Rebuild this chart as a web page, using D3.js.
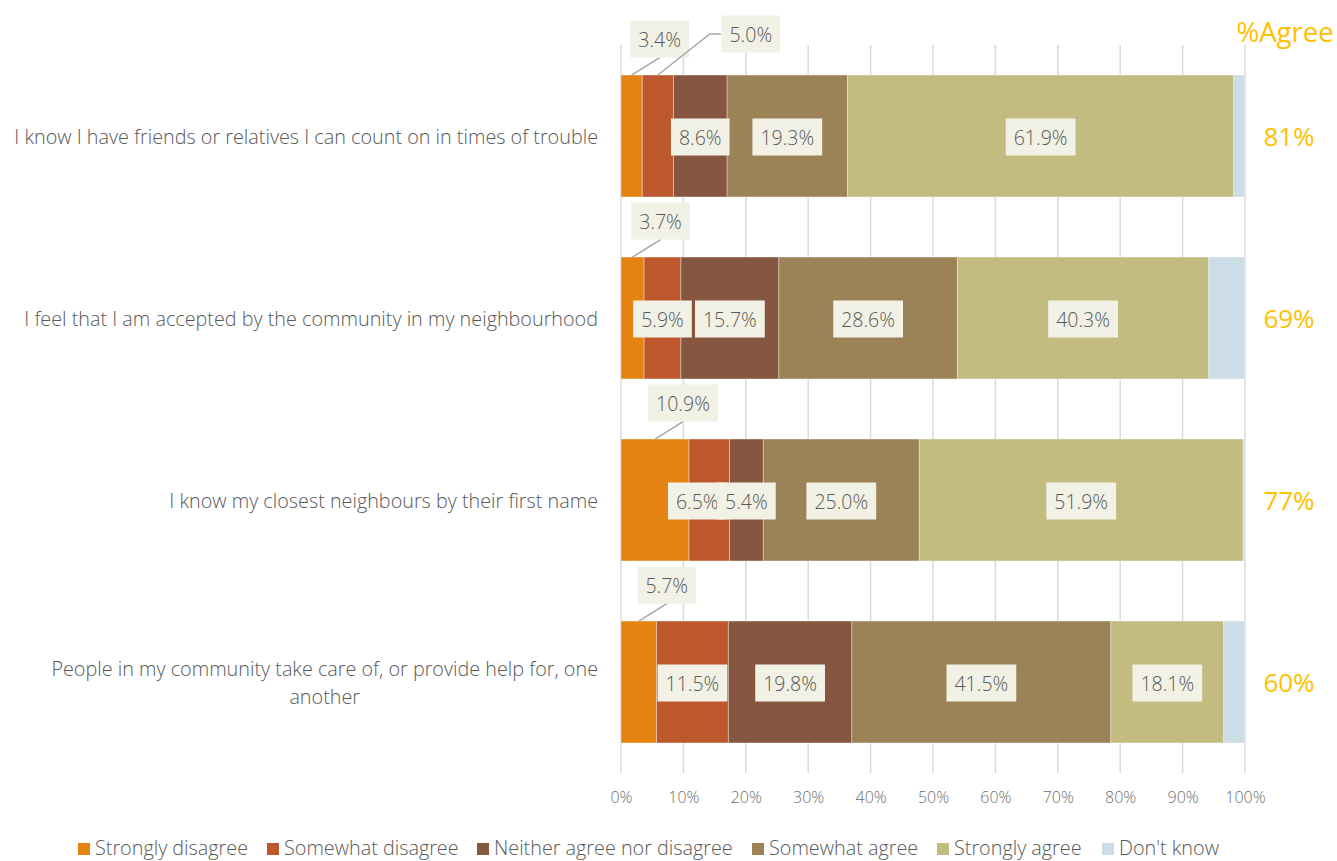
<!DOCTYPE html>
<html>
<head>
<meta charset="utf-8">
<script src="https://cdn.jsdelivr.net/npm/d3@7"></script>
<style>
  html, body { margin: 0; padding: 0; background: #fff; }
  svg { display: block; font-family: "Open Sans", "Noto Sans", sans-serif; }
</style>
</head>
<body>
<svg id="chart" width="1337" height="861"></svg>
<script>
// Survey statements (rows, top to bottom)
const categories = [
  "I know I have friends or relatives I can count on in times of trouble",
  "I feel that I am accepted by the community in my neighbourhood",
  "I know my closest neighbours by their first name",
  "People in my community take care of, or provide help for, one another"
];
// Response options (stack order, left to right)
const seriesNames = ["Strongly disagree", "Somewhat disagree", "Neither agree nor disagree", "Somewhat agree", "Strongly agree", "Don't know"];
const seriesColors = ["#E48312", "#BD582C", "#865640", "#9B8357", "#C2BC80", "#CCDDE8"];

// Percentages per statement, one array per response option
const stronglyDisagree = [3.4, 3.7, 10.9, 5.7];
const somewhatDisagree = [5.0, 5.9, 6.5, 11.5];
const neither          = [8.6, 15.7, 5.4, 19.8];
const somewhatAgree    = [19.3, 28.6, 25.0, 41.5];
const stronglyAgree    = [61.9, 40.3, 51.9, 18.1];
const dontKnow         = [1.8, 5.8, 0.3, 3.4];

const agreeShare = [81, 69, 77, 60];
const tickValues = [0, 10, 20, 30, 40, 50, 60, 70, 80, 90, 100];

// Segments whose labels sit above the bar with a leader line
const callouts = [
  { row: 0, series: 0, elbow: false },
  { row: 0, series: 1, elbow: true },
  { row: 1, series: 0, elbow: false },
  { row: 2, series: 0, elbow: false },
  { row: 3, series: 0, elbow: false }
];
// Horizontal nudges for crowded inside labels (row-series -> px)
const labelNudge = { "2-1": -12 };

const seriesValues = [stronglyDisagree, somewhatDisagree, neither, somewhatAgree, stronglyAgree, dontKnow];

const svg = d3.select("#chart");
const labelColor = "#595959";
const boxFill = "#F1F1E5";
const gold = "#FFC000";

const x = d3.scaleLinear().domain([0, 100]).range([621, 1245]);
const y = d3.scaleBand().domain(categories).range([45, 773]).paddingInner(0.33).paddingOuter(0.165);

// gridlines
svg.append("g").selectAll("line").data(tickValues).join("line")
  .attr("x1", d => x(d)).attr("x2", d => x(d))
  .attr("y1", 45).attr("y2", 773)
  .attr("stroke", "#D9D9D9").attr("stroke-width", 1.5);

// x axis tick labels
const xAxis = d3.axisBottom(x).tickValues(tickValues).tickFormat(d => d + "%").tickSize(0).tickPadding(0);
const axG = svg.append("g").attr("transform", "translate(0,792)").call(xAxis);
axG.select(".domain").remove();
axG.selectAll("text").attr("font-size", 16).attr("fill", "#6F6F6F").attr("font-family", "Open Sans, sans-serif").attr("font-weight", 300);

// stacked data
const rows = categories.map((c, i) => {
  let acc = 0;
  return seriesValues.map((vals, s) => {
    const v = vals[i];
    const seg = { cat: c, row: i, series: s, x0: acc, x1: acc + v, value: v };
    acc += v;
    return seg;
  });
});
const segments = rows.flat();

svg.append("g").selectAll("rect").data(segments).join("rect")
  .attr("x", d => x(d.x0))
  .attr("width", d => x(d.x1) - x(d.x0))
  .attr("y", d => y(d.cat))
  .attr("height", y.bandwidth())
  .attr("fill", d => seriesColors[d.series])
  .attr("stroke", "rgba(255,255,255,0.45)").attr("stroke-width", 0.8);

// label helper: text inside light box
function boxedLabel(g, cx, cy, txt) {
  const t = g.append("text").attr("x", cx).attr("y", cy)
    .attr("text-anchor", "middle").attr("dominant-baseline", "central")
    .attr("font-size", 19.5).attr("font-weight", 300).attr("fill", labelColor)
    .text(txt);
  const w = t.node().getComputedTextLength();
  g.insert("rect", () => t.node())
    .attr("x", cx - w / 2 - 8).attr("y", cy - 18.5)
    .attr("width", w + 16).attr("height", 37)
    .attr("fill", boxFill);
}

const calloutKey = new Set(callouts.map(c => c.row + "-" + c.series));
const labelsG = svg.append("g");

// inside labels (segments of series 0..4 that are not callouts)
segments.filter(d => d.series < 5 && !calloutKey.has(d.row + "-" + d.series)).forEach(d => {
  const g = labelsG.append("g");
  const nudge = labelNudge[d.row + "-" + d.series] || 0;
  boxedLabel(g, x((d.x0 + d.x1) / 2) + nudge, y(d.cat) + y.bandwidth() / 2 + 1, d.value.toFixed(1) + "%");
});

// callout labels above bars
callouts.forEach(c => {
  const d = rows[c.row][c.series];
  const sx = x((d.x0 + d.x1) / 2);
  const top = y(d.cat);
  const g = labelsG.append("g");
  if (c.elbow) {
    const bx = sx + 93, by = top - 41;
    g.append("polyline")
      .attr("points", [[sx, top], [bx - 41, by], [bx - 30, by]].map(p => p.join(",")).join(" "))
      .attr("fill", "none").attr("stroke", "#A6A6A6").attr("stroke-width", 1.5);
    boxedLabel(g, bx, by, d.value.toFixed(1) + "%");
  } else {
    const bx = sx + 28, by = top - 36;
    g.append("line")
      .attr("x1", sx).attr("y1", top).attr("x2", bx).attr("y2", by + 18.5)
      .attr("stroke", "#A6A6A6").attr("stroke-width", 1.5);
    boxedLabel(g, bx, by, d.value.toFixed(1) + "%");
  }
});

// category labels (right aligned block, wrapped lines centred)
const catG = svg.append("g");
const catSize = 19.8;
const maxW = 590;
categories.forEach(c => {
  const cy = y(c) + y.bandwidth() / 2;
  const probe = catG.append("text").attr("font-size", catSize).attr("font-weight", 300).text(c);
  const words = c.split(" ");
  const lines = [];
  let line = [];
  words.forEach(w => {
    line.push(w);
    probe.text(line.join(" "));
    if (probe.node().getComputedTextLength() > maxW && line.length > 1) {
      line.pop();
      lines.push(line.join(" "));
      line = [w];
    }
  });
  lines.push(line.join(" "));
  const w0 = d3.max(lines, l => { probe.text(l); return probe.node().getComputedTextLength(); });
  probe.remove();
  const lh = 28;
  const t = catG.append("text")
    .attr("font-size", catSize).attr("font-weight", 300).attr("fill", labelColor)
    .attr("text-anchor", "middle").attr("dominant-baseline", "central");
  lines.forEach((l, i) => {
    t.append("tspan").attr("x", 598 - w0 / 2)
      .attr("y", cy + (i - (lines.length - 1) / 2) * lh)
      .text(l);
  });
});

// %Agree column
svg.append("text").attr("x", 1285).attr("y", 31)
  .attr("text-anchor", "middle").attr("dominant-baseline", "central")
  .attr("font-size", 27.5).attr("font-weight", 400).attr("fill", gold).text("%Agree");
svg.append("g").selectAll("text").data(agreeShare).join("text")
  .attr("x", 1289).attr("y", (d, i) => y(categories[i]) + y.bandwidth() / 2)
  .attr("text-anchor", "middle").attr("dominant-baseline", "central")
  .attr("font-size", 26).attr("font-weight", 400).attr("fill", gold)
  .text(d => d + "%");

// legend
const legendX = [78, 267, 477, 752, 937, 1102];
const lg = svg.append("g").selectAll("g").data(seriesNames).join("g")
  .attr("transform", (d, i) => `translate(${legendX[i]},847)`);
lg.append("rect").attr("x", 0).attr("y", -4).attr("width", 12).attr("height", 12)
  .attr("fill", (d, i) => seriesColors[i]);
lg.append("text").attr("x", 17).attr("y", 0).attr("dominant-baseline", "central")
  .attr("font-size", 19.8).attr("font-weight", 300).attr("fill", labelColor).text(d => d);
</script>
</body>
</html>
